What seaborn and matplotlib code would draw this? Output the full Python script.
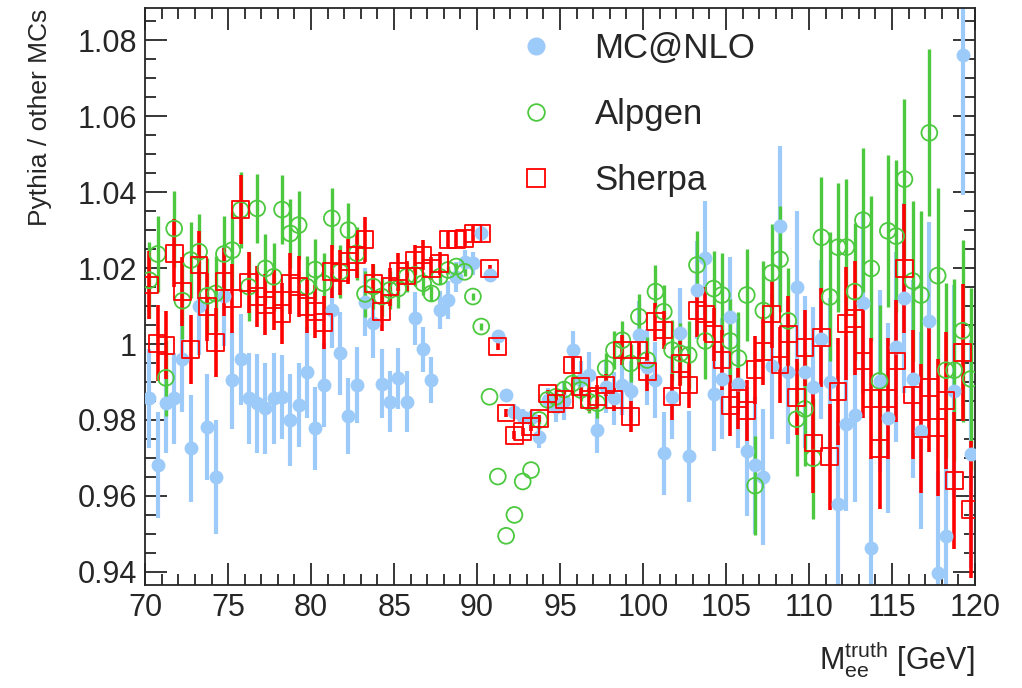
import numpy as np
import pandas as pd
import matplotlib
matplotlib.use("Agg")
import matplotlib.pyplot as plt
from matplotlib.lines import Line2D
from matplotlib.ticker import MultipleLocator, FuncFormatter
import seaborn as sns

# bin centres: 100 bins of 0.5 GeV between 70 and 120
bin_edges = np.arange(70.0, 120.01, 0.5)
mass = 0.5 * (bin_edges[:-1] + bin_edges[1:])

# Pythia / MC@NLO
mcatnlo = [0.9857, 0.9682, 0.9844, 0.9857, 0.9960, 0.9725, 1.0100, 0.9782, 0.9651, 1.0126,
           0.9905, 0.9960, 0.9857, 0.9844, 0.9831, 0.9857, 0.9861, 0.9800, 0.9840, 0.9925,
           0.9778, 0.9892, 1.0089, 0.9975, 0.9810, 0.9892, 1.0111, 1.0054, 0.9896, 0.9848,
           0.9910, 0.9848, 1.0068, 0.9986, 0.9905, 1.0089, 1.0116, 1.0177, 1.0217, 1.0212,
           1.0291, 1.0182, 1.0021, 0.9866, 0.9822, 0.9809, 0.9804, 0.9756, 0.9853, 0.9835,
           0.9850, 0.9984, 0.9905, 0.9918, 0.9774, 0.9888, 0.9857, 0.9892, 0.9875, 1.0024,
           0.9940, 0.9905, 0.9712, 0.9861, 1.0028, 0.9704, 1.0142, 1.0227, 0.9869, 0.9909,
           1.0070, 0.9896, 0.9717, 0.9681, 0.9650, 0.9941, 1.0312, 0.9927, 1.0151, 0.9927,
           0.9887, 1.0012, 0.9900, 0.9580, 0.9790, 0.9813, 1.0108, 0.9462, 0.9903, 0.9805,
           0.9991, 1.0122, 0.9908, 0.9772, 1.0061, 0.9396, 0.9494, 0.9875, 1.0762, 0.9711]
mcatnlo_err = [13, 14, 13, 12, 14, 14, 13, 14, 15, 13,
               13, 12, 12, 13, 12, 12, 11, 12, 11, 12,
               11, 11, 10, 11, 10, 10, 9, 9, 9, 8,
               8, 8, 7, 6, 6, 5, 5, 4, 3, 3,
               2, 1, 1, 1, 2, 2, 2, 3, 3, 4,
               5, 5, 5, 6, 6, 7, 7, 8, 8, 9,
               10, 10, 11, 11, 12, 12, 13, 15, 15, 16,
               16, 17, 17, 18, 18, 19, 21, 19, 20, 20,
               21, 21, 22, 22, 23, 23, 24, 24, 24, 25,
               25, 25, 26, 26, 26, 27, 27, 28, 37, 30]

# Pythia / Alpgen
alpgen = [1.0168, 1.0237, 0.9911, 1.0304, 1.0114, 1.0221, 1.0243, 1.0127, 1.0133, 1.0237,
          1.0247, 1.0353, 1.0151, 1.0357, 1.0199, 1.0177, 1.0354, 1.0291, 1.0313, 1.0151,
          1.0196, 1.0160, 1.0331, 1.0190, 1.0300, 1.0239, 1.0132, 1.0151, 1.0125, 1.0142,
          1.0146, 1.0177, 1.0182, 1.0160, 1.0133, 1.0177, 1.0195, 1.0204, 1.0190, 1.0125,
          1.0046, 0.9861, 0.9651, 0.9495, 0.9550, 0.9638, 0.9668, 0.9800, 0.9853, 0.9861,
          0.9880, 0.9896, 0.9879, 0.9848, 0.9844, 0.9936, 0.9984, 1.0010, 0.9949, 1.0072,
          0.9958, 1.0138, 1.0085, 0.9984, 0.9975, 0.9971, 1.0208, 1.0008, 1.0146, 1.0129,
          1.0008, 0.9963, 1.0129, 0.9627, 1.0088, 1.0187, 1.0223, 1.0061, 0.9802, 0.9829,
          0.9699, 1.0281, 1.0124, 1.0255, 1.0255, 1.0138, 1.0326, 1.0199, 0.9903, 1.0298,
          1.0284, 1.0434, 1.0166, 1.0129, 1.0556, 1.0180, 0.9931, 0.9931, 1.0035, 0.9908]
alpgen_err = [10, 10, 10, 10, 10, 10, 10, 10, 10, 10,
              10, 10, 9, 9, 9, 9, 9, 9, 9, 8,
              8, 8, 8, 7, 7, 7, 6, 6, 5, 5,
              5, 4, 3, 3, 2, 2, 1, 1, 1, 1,
              1, 0, 0, 0, 0, 0, 0, 1, 1, 2,
              2, 3, 3, 3, 4, 4, 5, 5, 5, 6,
              6, 7, 7, 8, 8, 9, 9, 10, 10, 11,
              11, 12, 12, 13, 13, 13, 14, 14, 15, 15,
              16, 16, 17, 17, 18, 18, 19, 19, 20, 20,
              20, 21, 21, 22, 22, 23, 23, 24, 24, 24]

# Pythia / Sherpa
sherpa = [1.0155, 1.0002, 0.9997, 1.0239, 1.0138, 0.9986, 1.0208, 1.0098, 1.0004, 1.0164,
          1.0120, 1.0354, 1.0161, 1.0125, 1.0103, 1.0116, 1.0081, 1.0160, 1.0151, 1.0098,
          1.0085, 1.0056, 1.0190, 1.0188, 1.0217, 1.0234, 1.0275, 1.0160, 1.0085, 1.0151,
          1.0190, 1.0179, 1.0221, 1.0234, 1.0199, 1.0212, 1.0275, 1.0275, 1.0278, 1.0291,
          1.0291, 1.0199, 0.9993, 0.9818, 0.9760, 0.9769, 0.9782, 0.9804, 0.9870, 0.9844,
          0.9853, 0.9945, 0.9888, 0.9853, 0.9861, 0.9892, 0.9853, 0.9984, 0.9809, 0.9984,
          0.9927, 1.0059, 1.0037, 0.9861, 0.9949, 0.9892, 1.0089, 1.0079, 1.0026, 0.9958,
          0.9838, 0.9856, 0.9824, 0.9932, 0.9981, 1.0079, 0.9945, 1.0026, 0.9860, 0.9990,
          0.9739, 1.0017, 0.9703, 0.9875, 1.0054, 1.0068, 0.9955, 0.9856, 0.9725, 0.9856,
          0.9955, 1.0199, 0.9866, 0.9777, 0.9885, 0.9781, 0.9852, 0.9640, 0.9978, 0.9565]
sherpa_err = [9, 10, 9, 9, 9, 9, 9, 9, 9, 9,
              9, 9, 8, 8, 8, 8, 8, 8, 8, 7,
              7, 7, 7, 6, 6, 6, 6, 5, 5, 5,
              5, 4, 4, 4, 3, 3, 2, 2, 2, 2,
              1, 1, 1, 1, 1, 1, 1, 1, 1, 2,
              2, 2, 2, 3, 3, 3, 3, 4, 4, 4,
              5, 5, 5, 6, 6, 6, 7, 7, 7, 8,
              8, 8, 8, 9, 9, 9, 10, 10, 10, 10,
              13, 13, 14, 14, 15, 15, 15, 16, 16, 16,
              16, 17, 17, 17, 17, 18, 18, 18, 18, 18]

labels = ["MC@NLO", "Alpgen", "Sherpa"]
colors = ["#9dcbf9", "#4cc93f", "#ff0000"]

df = pd.DataFrame({"mass": mass, "MC@NLO": mcatnlo, "Alpgen": alpgen, "Sherpa": sherpa})
errs = {"MC@NLO": np.array(mcatnlo_err) / 1000.0,
        "Alpgen": np.array(alpgen_err) / 1000.0,
        "Sherpa": np.array(sherpa_err) / 1000.0}

sns.set_style("ticks")
plt.rcParams["font.family"] = ["Liberation Sans", "DejaVu Sans"]
plt.rcParams["mathtext.default"] = "regular"

fig = plt.figure(figsize=(10.22, 6.88), dpi=100)
ax = fig.add_axes([0.142, 0.150, 0.812, 0.838])

bar_width = {"MC@NLO": 3.0, "Alpgen": 2.4, "Sherpa": 2.6}
for lab, col in zip(labels, colors):
    eb = ax.errorbar(df["mass"], df[lab], yerr=errs[lab], fmt="none",
                     ecolor=col, elinewidth=bar_width[lab], capsize=0, zorder=2)
    eb[2][0].set_capstyle("butt")

sns.scatterplot(data=df, x="mass", y="MC@NLO", marker="o", s=100,
                color=colors[0], edgecolor=colors[0], linewidth=0, ax=ax, zorder=3)
sns.scatterplot(data=df, x="mass", y="Alpgen", marker="o", s=130,
                facecolor="none", edgecolor=colors[1], linewidth=1.3, ax=ax, zorder=4)
sns.scatterplot(data=df, x="mass", y="Sherpa", marker="s", s=145,
                facecolor="none", edgecolor=colors[2], linewidth=1.3, ax=ax, zorder=5)

ax.set_xlim(70, 120)
ax.set_ylim(0.9366, 1.0884)
ax.xaxis.set_major_locator(MultipleLocator(5))
ax.xaxis.set_minor_locator(MultipleLocator(1))
ax.yaxis.set_major_locator(MultipleLocator(0.02))
ax.yaxis.set_minor_locator(MultipleLocator(0.005))
ax.yaxis.set_major_formatter(FuncFormatter(lambda v, p: "%g" % round(v, 4)))
ax.tick_params(which="both", direction="in", top=True, right=True, labelsize=22, width=1.3)
ax.tick_params(which="major", length=16, pad=6)
ax.tick_params(which="minor", length=8)
for sp in ax.spines.values():
    sp.set_linewidth(1.3)

ax.set_xlabel("M$_{ee}^{truth}$ [GeV]", fontsize=22, loc="right", labelpad=12)
ax.set_ylabel("Pythia / other MCs", fontsize=19, loc="top", labelpad=18)

handles = [
    Line2D([], [], ls="none", marker="o", ms=12, color=colors[0]),
    Line2D([], [], ls="none", marker="o", ms=12, mfc="none", mec=colors[1], mew=1.3),
    Line2D([], [], ls="none", marker="s", ms=13, mfc="none", mec=colors[2], mew=1.3),
]
ax.legend(handles, labels, loc="upper left", bbox_to_anchor=(0.490, 0.978),
          bbox_transform=fig.transFigure, frameon=False, fontsize=25,
          borderpad=0, handlelength=1.0, handletextpad=1.2, labelspacing=0.95)

fig.savefig("out.png", dpi=100)
